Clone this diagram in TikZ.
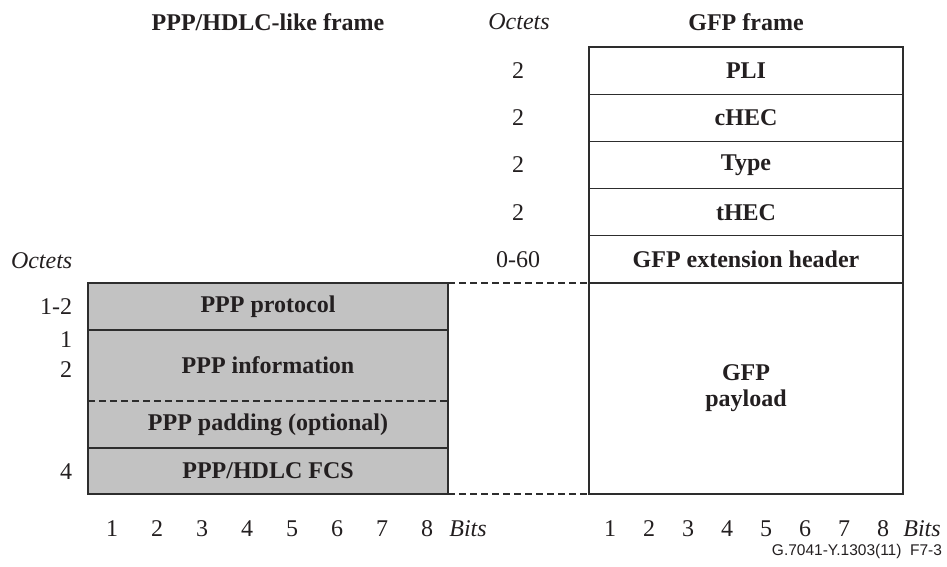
\documentclass[tikz,border=0pt]{standalone}
\usepackage{fontspec}
\setmainfont{Liberation Serif}
\newfontfamily\tagsans{Liberation Sans}
\definecolor{rulecol}{RGB}{45,45,45}
\definecolor{pppfill}{RGB}{194,194,194}
\definecolor{inkcol}{RGB}{35,31,32}
\tikzset{
  txt/.style={inner sep=0pt, outer sep=0pt, text=inkcol, font=\fontsize{24}{28}\selectfont},
  boldtxt/.style={txt, font=\fontsize{24}{26}\selectfont\bfseries},
  ittxt/.style={txt, font=\fontsize{24}{28}\selectfont\itshape},
  gfpfield/.style={boldtxt, draw=rulecol, line width=1.3pt, minimum width=314pt, align=center},
  pppfield/.style={boldtxt, fill=pppfill, minimum width=360pt},
  sep/.style={draw=rulecol, line width=1.3pt},
  dashsep/.style={draw=rulecol, line width=1.1pt, dash pattern=on 7pt off 4pt}
}
\begin{document}
\begin{tikzpicture}[x=1pt,y=-1pt]
\useasboundingbox (0,0) rectangle (947,567);

% headings
\node[boldtxt] (hppp) at (268,22) {PPP/HDLC-like frame};
\node[ittxt]   (hoct) at (519,22) {Octets};
\node[boldtxt] (hgfp) at (746,22) {GFP frame};

% GFP frame fields
\node[gfpfield, minimum height=47.2pt] (pli)  at (746,70.6)  {PLI};
\node[gfpfield, minimum height=47.2pt] (chec) at (746,117.8) {cHEC};
\node[gfpfield, minimum height=47.2pt] (type) at (746,165.0) {Type};
\node[gfpfield, minimum height=47.2pt] (thec) at (746,212.2) {tHEC};
\node[gfpfield, minimum height=47.2pt] (ext)  at (746,259.4) {GFP extension header};
\node[gfpfield, minimum height=211pt]  (pay)  at (746,388.5) {GFP\\payload};

% octet counts of the GFP fields
\node[txt] (opli)  at (518,70.6)  {2};
\node[txt] (ochec) at (518,117.8) {2};
\node[txt] (otype) at (518,165.0) {2};
\node[txt] (othec) at (518,212.2) {2};
\node[txt] (oext)  at (518,259.4) {0-60};

% PPP/HDLC-like frame fields
\node[pppfield, minimum height=47pt] (proto) at (268,306.5) {PPP protocol};
\node[pppfield, minimum height=71pt] (info)  at (268,365.5) {PPP information};
\node[pppfield, minimum height=47pt] (pad)   at (268,424.5) {PPP padding (optional)};
\node[pppfield, minimum height=46pt] (fcs)   at (268,471)   {PPP/HDLC FCS};

% outlines of the PPP fields
\draw[sep] (proto.south west) rectangle (proto.north east);
\draw[sep] (fcs.south west) rectangle (fcs.north east);
\draw[sep] (info.north west) -- (pad.south west);
\draw[sep] (info.north east) -- (pad.south east);
\draw[dashsep] (info.south west) -- (info.south east);

% octet counts of the PPP fields
\node[ittxt, anchor=west] (loct) at (11,261) {Octets};
\node[txt, anchor=east] (oproto) at (72,307) {1-2};
\node[txt, anchor=east] (oinfa)  at (72,340) {1};
\node[txt, anchor=east] (oinfb)  at (72,370) {2};
\node[txt, anchor=east] (ofcs)   at (72,471.5) {4};

% payload mapping
\draw[dashsep] (proto.north east) -- (pay.north west);
\draw[dashsep] (fcs.south east) -- (pay.south west);

% bit numbering
\foreach \i in {1,...,8} {
  \node[txt] (lb\i) at ({112+45*(\i-1)},529) {\i};
  \node[txt] (rb\i) at ({610+39*(\i-1)},529) {\i};
}
\node[ittxt] (lbits) at (468,529) {Bits};
\node[ittxt] (rbits) at (922,529) {Bits};

% figure tag
\node[txt, anchor=east, font=\tagsans\fontsize{15.5}{17}\selectfont] (tag) at (942,551.5) {G.7041-Y.1303(11)\ \ F7-3};
\end{tikzpicture}
\end{document}
